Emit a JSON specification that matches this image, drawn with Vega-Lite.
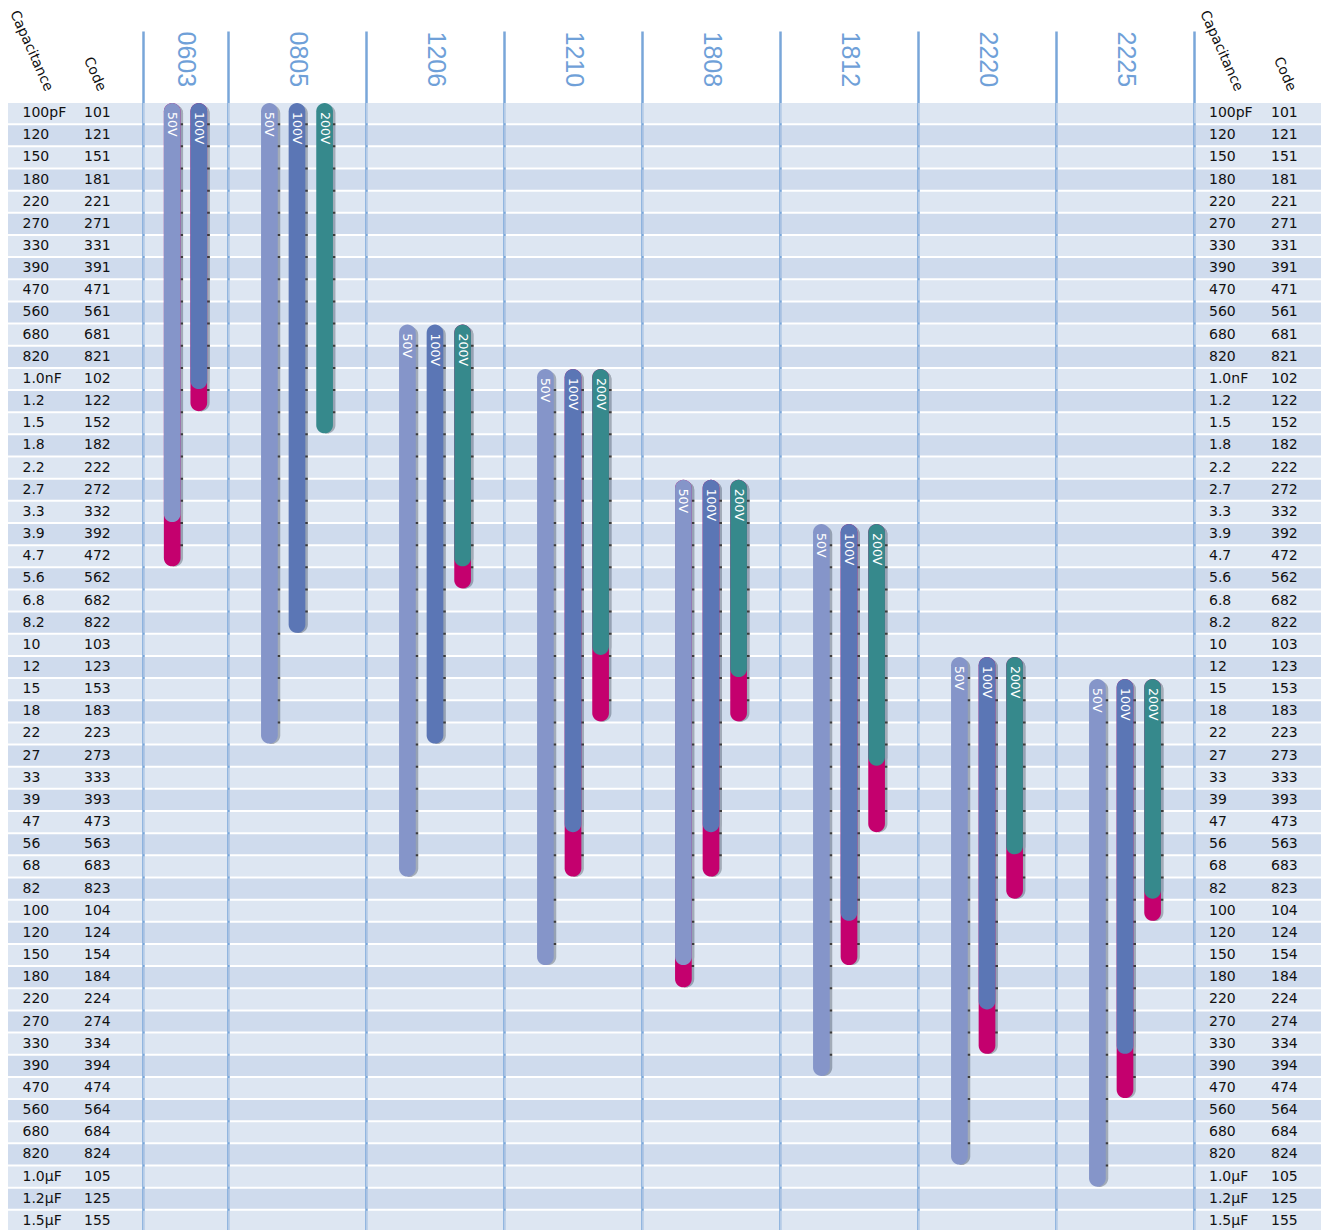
{
  "$schema": "https://vega.github.io/schema/vega-lite/v6.json",
  "background": "white",
  "padding": {"left": 6, "top": 7, "right": 0, "bottom": 0},
  "autosize": {"type": "pad"},
  "spacing": 0,
  "bounds": "flush",
  "config": {
    "view": {"stroke": null},
    "font": "DejaVu Sans",
    "axisY": {"domainColor": "#79a6d9", "domainWidth": 2.5, "labels": false, "ticks": false, "grid": false, "zindex": 1},
    "axisX": {"grid": false}
  },
  "datasets": {
    "rows": [
      {"cap": "100pF", "code": "101"}, {"cap": "120", "code": "121"}, {"cap": "150", "code": "151"}, {"cap": "180", "code": "181"},
      {"cap": "220", "code": "221"}, {"cap": "270", "code": "271"}, {"cap": "330", "code": "331"}, {"cap": "390", "code": "391"},
      {"cap": "470", "code": "471"}, {"cap": "560", "code": "561"}, {"cap": "680", "code": "681"}, {"cap": "820", "code": "821"},
      {"cap": "1.0nF", "code": "102"}, {"cap": "1.2", "code": "122"}, {"cap": "1.5", "code": "152"}, {"cap": "1.8", "code": "182"},
      {"cap": "2.2", "code": "222"}, {"cap": "2.7", "code": "272"}, {"cap": "3.3", "code": "332"}, {"cap": "3.9", "code": "392"},
      {"cap": "4.7", "code": "472"}, {"cap": "5.6", "code": "562"}, {"cap": "6.8", "code": "682"}, {"cap": "8.2", "code": "822"},
      {"cap": "10", "code": "103"}, {"cap": "12", "code": "123"}, {"cap": "15", "code": "153"}, {"cap": "18", "code": "183"},
      {"cap": "22", "code": "223"}, {"cap": "27", "code": "273"}, {"cap": "33", "code": "333"}, {"cap": "39", "code": "393"},
      {"cap": "47", "code": "473"}, {"cap": "56", "code": "563"}, {"cap": "68", "code": "683"}, {"cap": "82", "code": "823"},
      {"cap": "100", "code": "104"}, {"cap": "120", "code": "124"}, {"cap": "150", "code": "154"}, {"cap": "180", "code": "184"},
      {"cap": "220", "code": "224"}, {"cap": "270", "code": "274"}, {"cap": "330", "code": "334"}, {"cap": "390", "code": "394"},
      {"cap": "470", "code": "474"}, {"cap": "560", "code": "564"}, {"cap": "680", "code": "684"}, {"cap": "820", "code": "824"},
      {"cap": "1.0µF", "code": "105"}, {"cap": "1.2µF", "code": "125"}, {"cap": "1.5µF", "code": "155"}
    ],
    "bars": [
      {"pkg": "0603", "v": "50V", "top": "101", "end": "332", "ext": "472"},
      {"pkg": "0603", "v": "100V", "top": "101", "end": "102", "ext": "122"},
      {"pkg": "0805", "v": "50V", "top": "101", "end": "223"},
      {"pkg": "0805", "v": "100V", "top": "101", "end": "822"},
      {"pkg": "0805", "v": "200V", "top": "101", "end": "152"},
      {"pkg": "1206", "v": "50V", "top": "681", "end": "683"},
      {"pkg": "1206", "v": "100V", "top": "681", "end": "223"},
      {"pkg": "1206", "v": "200V", "top": "681", "end": "472", "ext": "562"},
      {"pkg": "1210", "v": "50V", "top": "102", "end": "154"},
      {"pkg": "1210", "v": "100V", "top": "102", "end": "473", "ext": "683"},
      {"pkg": "1210", "v": "200V", "top": "102", "end": "103", "ext": "183"},
      {"pkg": "1808", "v": "50V", "top": "272", "end": "154", "ext": "184"},
      {"pkg": "1808", "v": "100V", "top": "272", "end": "473", "ext": "683"},
      {"pkg": "1808", "v": "200V", "top": "272", "end": "123", "ext": "183"},
      {"pkg": "1812", "v": "50V", "top": "392", "end": "394"},
      {"pkg": "1812", "v": "100V", "top": "392", "end": "104", "ext": "154"},
      {"pkg": "1812", "v": "200V", "top": "392", "end": "273", "ext": "473"},
      {"pkg": "2220", "v": "50V", "top": "123", "end": "824"},
      {"pkg": "2220", "v": "100V", "top": "123", "end": "224", "ext": "334"},
      {"pkg": "2220", "v": "200V", "top": "123", "end": "563", "ext": "823"},
      {"pkg": "2225", "v": "50V", "top": "153", "end": "105"},
      {"pkg": "2225", "v": "100V", "top": "153", "end": "334", "ext": "474"},
      {"pkg": "2225", "v": "200V", "top": "153", "end": "823", "ext": "104"}
    ]
  },
  "hconcat": [
    {
      "width": 135, "height": 1200,
      "data": {"name": "rows"},
      "transform": [{"window": [{"op": "row_number", "as": "rn"}]}],
      "encoding": {"y": {"field": "code", "type": "nominal", "title": null, "axis": null,
        "scale": {"domain": ["_h1","_h2","101","121","151","181","221","271","331","391","471","561","681","821","102","122","152","182","222","272","332","392","472","562","682","822","103","123","153","183","223","273","333","393","473","563","683","823","104","124","154","184","224","274","334","394","474","564","684","824","105","125","155"], "paddingInner": 0.09, "paddingOuter": 0.625, "align": 1}}},
      "layer": [
        {"mark": {"type": "rect", "fillOpacity": 0.7},
         "encoding": {"x": {"value": 0}, "x2": {"value": "width"},
           "color": {"condition": {"test": "datum.rn % 2 == 0", "value": "#bacce5"}, "value": "#cedbec"}}},
        {"mark": {"type": "text", "align": "left", "baseline": "middle", "dx": 0, "font": "DejaVu Sans", "fontSize": 14, "color": "#111111"},
         "encoding": {"x": {"datum": "Capacitance", "type": "nominal", "bandPosition": 0,
             "scale": {"type": "band", "domain": ["Capacitance", "Code"], "paddingInner": 0, "paddingOuter": 0.274},
             "axis": {"orient": "top", "offset": -59, "title": null, "labelAngle": 66, "labelAlign": "right", "labelBaseline": "middle", "labelPadding": 0, "ticks": false, "tickSize": 0, "domain": false, "labelFont": "DejaVu Sans", "labelFontSize": 14, "labelColor": "#111111", "labelOverlap": false, "labelBound": false, "labelFlush": false}},
           "text": {"field": "cap"}}},
        {"mark": {"type": "text", "align": "left", "baseline": "middle", "dx": 8.5, "font": "DejaVu Sans", "fontSize": 14, "color": "#111111"},
         "encoding": {"x": {"datum": "Code", "type": "nominal", "bandPosition": 0, "scale": {"type": "band"}}, "text": {"field": "code"}}}
      ]
    },
    {
      "width": 85, "height": 1200,
      "data": {"name": "bars"},
      "transform": [{"filter": "datum.pkg == '0603'"}],
      "encoding": {"x": {"field": "v", "type": "nominal", "scale": {"type": "band", "domain": ["50V", "100V"], "paddingInner": 0, "paddingOuter": 0.598},
        "axis": {"orient": "top", "title": "0603", "labels": false, "ticks": false, "domain": false, "titleAngle": 90, "titleAlign": "left", "titleBaseline": "middle", "titleY": 0, "titleFont": "Liberation Sans", "titleFontSize": 25, "titleFontWeight": "normal", "titleColor": "#6fa0d8"}}},
      "layer": [
        {"mark": {"type": "bar", "width": 16.7, "cornerRadius": 8.35, "color": "#3c3c3c", "xOffset": 2.5, "yOffset": 2},
         "encoding": {"y": {"field": "top", "type": "nominal", "bandPosition": 0, "title": null}, "y2": {"field": "end", "bandPosition": 1}}},
        {"transform": [{"filter": "isValid(datum.ext)"}], "mark": {"type": "bar", "width": 16.7, "cornerRadius": 8.35, "color": "#3c3c3c", "xOffset": 2.5, "yOffset": 2},
         "encoding": {"y": {"field": "top", "type": "nominal", "bandPosition": 0, "title": null}, "y2": {"field": "ext", "bandPosition": 1}}},
        {"data": {"name": "rows"}, "transform": [{"window": [{"op": "row_number", "as": "rn"}]}],
         "mark": {"type": "rect", "fillOpacity": 0.7},
         "encoding": {"x": {"value": 0}, "x2": {"value": "width"},
           "y": {"field": "code", "type": "nominal", "title": null, "axis": {"title": null},
             "scale": {"domain": ["_h1","_h2","101","121","151","181","221","271","331","391","471","561","681","821","102","122","152","182","222","272","332","392","472","562","682","822","103","123","153","183","223","273","333","393","473","563","683","823","104","124","154","184","224","274","334","394","474","564","684","824","105","125","155"], "paddingInner": 0.09, "paddingOuter": 0.625, "align": 1}},
           "color": {"condition": {"test": "datum.rn % 2 == 0", "value": "#bacce5"}, "value": "#cedbec"}}},
        {"transform": [{"filter": "isValid(datum.ext)"}], "mark": {"type": "bar", "width": 16.7, "cornerRadius": 8.35, "color": "#c4006e"},
         "encoding": {"y": {"field": "top", "type": "nominal", "bandPosition": 0, "title": null}, "y2": {"field": "ext", "bandPosition": 1}}},
        {"mark": {"type": "bar", "width": 16.7, "cornerRadius": 8.35},
         "encoding": {"y": {"field": "top", "type": "nominal", "bandPosition": 0, "title": null}, "y2": {"field": "end", "bandPosition": 1},
           "color": {"field": "v", "type": "nominal", "scale": {"domain": ["50V", "100V", "200V"], "range": ["#8595c9", "#5b76b5", "#36898c"]}, "legend": null}}},
        {"mark": {"type": "text", "angle": 90, "align": "left", "baseline": "middle", "dx": 9, "color": "white", "font": "DejaVu Sans", "fontSize": 12.5},
         "encoding": {"y": {"field": "top", "type": "nominal", "bandPosition": 0, "title": null}, "text": {"field": "v"}}}
      ]
    },
    {
      "width": 138, "height": 1200,
      "data": {"name": "bars"},
      "transform": [{"filter": "datum.pkg == '0805'"}],
      "encoding": {"x": {"field": "v", "type": "nominal", "scale": {"type": "band", "domain": ["50V", "100V", "200V"], "paddingInner": 0, "paddingOuter": 1},
        "axis": {"orient": "top", "title": "0805", "labels": false, "ticks": false, "domain": false, "titleAngle": 90, "titleAlign": "left", "titleBaseline": "middle", "titleY": 0, "titleFont": "Liberation Sans", "titleFontSize": 25, "titleFontWeight": "normal", "titleColor": "#6fa0d8"}}},
      "layer": [
        {"mark": {"type": "bar", "width": 16.7, "cornerRadius": 8.35, "color": "#3c3c3c", "xOffset": 2.5, "yOffset": 2},
         "encoding": {"y": {"field": "top", "type": "nominal", "bandPosition": 0, "title": null}, "y2": {"field": "end", "bandPosition": 1}}},
        {"transform": [{"filter": "isValid(datum.ext)"}], "mark": {"type": "bar", "width": 16.7, "cornerRadius": 8.35, "color": "#3c3c3c", "xOffset": 2.5, "yOffset": 2},
         "encoding": {"y": {"field": "top", "type": "nominal", "bandPosition": 0, "title": null}, "y2": {"field": "ext", "bandPosition": 1}}},
        {"data": {"name": "rows"}, "transform": [{"window": [{"op": "row_number", "as": "rn"}]}],
         "mark": {"type": "rect", "fillOpacity": 0.7},
         "encoding": {"x": {"value": 0}, "x2": {"value": "width"},
           "y": {"field": "code", "type": "nominal", "title": null, "axis": {"title": null},
             "scale": {"domain": ["_h1","_h2","101","121","151","181","221","271","331","391","471","561","681","821","102","122","152","182","222","272","332","392","472","562","682","822","103","123","153","183","223","273","333","393","473","563","683","823","104","124","154","184","224","274","334","394","474","564","684","824","105","125","155"], "paddingInner": 0.09, "paddingOuter": 0.625, "align": 1}},
           "color": {"condition": {"test": "datum.rn % 2 == 0", "value": "#bacce5"}, "value": "#cedbec"}}},
        {"transform": [{"filter": "isValid(datum.ext)"}], "mark": {"type": "bar", "width": 16.7, "cornerRadius": 8.35, "color": "#c4006e"},
         "encoding": {"y": {"field": "top", "type": "nominal", "bandPosition": 0, "title": null}, "y2": {"field": "ext", "bandPosition": 1}}},
        {"mark": {"type": "bar", "width": 16.7, "cornerRadius": 8.35},
         "encoding": {"y": {"field": "top", "type": "nominal", "bandPosition": 0, "title": null}, "y2": {"field": "end", "bandPosition": 1},
           "color": {"field": "v", "type": "nominal", "scale": {"domain": ["50V", "100V", "200V"], "range": ["#8595c9", "#5b76b5", "#36898c"]}, "legend": null}}},
        {"mark": {"type": "text", "angle": 90, "align": "left", "baseline": "middle", "dx": 9, "color": "white", "font": "DejaVu Sans", "fontSize": 12.5},
         "encoding": {"y": {"field": "top", "type": "nominal", "bandPosition": 0, "title": null}, "text": {"field": "v"}}}
      ]
    },
    {
      "width": 138, "height": 1200,
      "data": {"name": "bars"},
      "transform": [{"filter": "datum.pkg == '1206'"}],
      "encoding": {"x": {"field": "v", "type": "nominal", "scale": {"type": "band", "domain": ["50V", "100V", "200V"], "paddingInner": 0, "paddingOuter": 1},
        "axis": {"orient": "top", "title": "1206", "labels": false, "ticks": false, "domain": false, "titleAngle": 90, "titleAlign": "left", "titleBaseline": "middle", "titleY": 0, "titleFont": "Liberation Sans", "titleFontSize": 25, "titleFontWeight": "normal", "titleColor": "#6fa0d8"}}},
      "layer": [
        {"mark": {"type": "bar", "width": 16.7, "cornerRadius": 8.35, "color": "#3c3c3c", "xOffset": 2.5, "yOffset": 2},
         "encoding": {"y": {"field": "top", "type": "nominal", "bandPosition": 0, "title": null}, "y2": {"field": "end", "bandPosition": 1}}},
        {"transform": [{"filter": "isValid(datum.ext)"}], "mark": {"type": "bar", "width": 16.7, "cornerRadius": 8.35, "color": "#3c3c3c", "xOffset": 2.5, "yOffset": 2},
         "encoding": {"y": {"field": "top", "type": "nominal", "bandPosition": 0, "title": null}, "y2": {"field": "ext", "bandPosition": 1}}},
        {"data": {"name": "rows"}, "transform": [{"window": [{"op": "row_number", "as": "rn"}]}],
         "mark": {"type": "rect", "fillOpacity": 0.7},
         "encoding": {"x": {"value": 0}, "x2": {"value": "width"},
           "y": {"field": "code", "type": "nominal", "title": null, "axis": {"title": null},
             "scale": {"domain": ["_h1","_h2","101","121","151","181","221","271","331","391","471","561","681","821","102","122","152","182","222","272","332","392","472","562","682","822","103","123","153","183","223","273","333","393","473","563","683","823","104","124","154","184","224","274","334","394","474","564","684","824","105","125","155"], "paddingInner": 0.09, "paddingOuter": 0.625, "align": 1}},
           "color": {"condition": {"test": "datum.rn % 2 == 0", "value": "#bacce5"}, "value": "#cedbec"}}},
        {"transform": [{"filter": "isValid(datum.ext)"}], "mark": {"type": "bar", "width": 16.7, "cornerRadius": 8.35, "color": "#c4006e"},
         "encoding": {"y": {"field": "top", "type": "nominal", "bandPosition": 0, "title": null}, "y2": {"field": "ext", "bandPosition": 1}}},
        {"mark": {"type": "bar", "width": 16.7, "cornerRadius": 8.35},
         "encoding": {"y": {"field": "top", "type": "nominal", "bandPosition": 0, "title": null}, "y2": {"field": "end", "bandPosition": 1},
           "color": {"field": "v", "type": "nominal", "scale": {"domain": ["50V", "100V", "200V"], "range": ["#8595c9", "#5b76b5", "#36898c"]}, "legend": null}}},
        {"mark": {"type": "text", "angle": 90, "align": "left", "baseline": "middle", "dx": 9, "color": "white", "font": "DejaVu Sans", "fontSize": 12.5},
         "encoding": {"y": {"field": "top", "type": "nominal", "bandPosition": 0, "title": null}, "text": {"field": "v"}}}
      ]
    },
    {
      "width": 138, "height": 1200,
      "data": {"name": "bars"},
      "transform": [{"filter": "datum.pkg == '1210'"}],
      "encoding": {"x": {"field": "v", "type": "nominal", "scale": {"type": "band", "domain": ["50V", "100V", "200V"], "paddingInner": 0, "paddingOuter": 1},
        "axis": {"orient": "top", "title": "1210", "labels": false, "ticks": false, "domain": false, "titleAngle": 90, "titleAlign": "left", "titleBaseline": "middle", "titleY": 0, "titleFont": "Liberation Sans", "titleFontSize": 25, "titleFontWeight": "normal", "titleColor": "#6fa0d8"}}},
      "layer": [
        {"mark": {"type": "bar", "width": 16.7, "cornerRadius": 8.35, "color": "#3c3c3c", "xOffset": 2.5, "yOffset": 2},
         "encoding": {"y": {"field": "top", "type": "nominal", "bandPosition": 0, "title": null}, "y2": {"field": "end", "bandPosition": 1}}},
        {"transform": [{"filter": "isValid(datum.ext)"}], "mark": {"type": "bar", "width": 16.7, "cornerRadius": 8.35, "color": "#3c3c3c", "xOffset": 2.5, "yOffset": 2},
         "encoding": {"y": {"field": "top", "type": "nominal", "bandPosition": 0, "title": null}, "y2": {"field": "ext", "bandPosition": 1}}},
        {"data": {"name": "rows"}, "transform": [{"window": [{"op": "row_number", "as": "rn"}]}],
         "mark": {"type": "rect", "fillOpacity": 0.7},
         "encoding": {"x": {"value": 0}, "x2": {"value": "width"},
           "y": {"field": "code", "type": "nominal", "title": null, "axis": {"title": null},
             "scale": {"domain": ["_h1","_h2","101","121","151","181","221","271","331","391","471","561","681","821","102","122","152","182","222","272","332","392","472","562","682","822","103","123","153","183","223","273","333","393","473","563","683","823","104","124","154","184","224","274","334","394","474","564","684","824","105","125","155"], "paddingInner": 0.09, "paddingOuter": 0.625, "align": 1}},
           "color": {"condition": {"test": "datum.rn % 2 == 0", "value": "#bacce5"}, "value": "#cedbec"}}},
        {"transform": [{"filter": "isValid(datum.ext)"}], "mark": {"type": "bar", "width": 16.7, "cornerRadius": 8.35, "color": "#c4006e"},
         "encoding": {"y": {"field": "top", "type": "nominal", "bandPosition": 0, "title": null}, "y2": {"field": "ext", "bandPosition": 1}}},
        {"mark": {"type": "bar", "width": 16.7, "cornerRadius": 8.35},
         "encoding": {"y": {"field": "top", "type": "nominal", "bandPosition": 0, "title": null}, "y2": {"field": "end", "bandPosition": 1},
           "color": {"field": "v", "type": "nominal", "scale": {"domain": ["50V", "100V", "200V"], "range": ["#8595c9", "#5b76b5", "#36898c"]}, "legend": null}}},
        {"mark": {"type": "text", "angle": 90, "align": "left", "baseline": "middle", "dx": 9, "color": "white", "font": "DejaVu Sans", "fontSize": 12.5},
         "encoding": {"y": {"field": "top", "type": "nominal", "bandPosition": 0, "title": null}, "text": {"field": "v"}}}
      ]
    },
    {
      "width": 138, "height": 1200,
      "data": {"name": "bars"},
      "transform": [{"filter": "datum.pkg == '1808'"}],
      "encoding": {"x": {"field": "v", "type": "nominal", "scale": {"type": "band", "domain": ["50V", "100V", "200V"], "paddingInner": 0, "paddingOuter": 1},
        "axis": {"orient": "top", "title": "1808", "labels": false, "ticks": false, "domain": false, "titleAngle": 90, "titleAlign": "left", "titleBaseline": "middle", "titleY": 0, "titleFont": "Liberation Sans", "titleFontSize": 25, "titleFontWeight": "normal", "titleColor": "#6fa0d8"}}},
      "layer": [
        {"mark": {"type": "bar", "width": 16.7, "cornerRadius": 8.35, "color": "#3c3c3c", "xOffset": 2.5, "yOffset": 2},
         "encoding": {"y": {"field": "top", "type": "nominal", "bandPosition": 0, "title": null}, "y2": {"field": "end", "bandPosition": 1}}},
        {"transform": [{"filter": "isValid(datum.ext)"}], "mark": {"type": "bar", "width": 16.7, "cornerRadius": 8.35, "color": "#3c3c3c", "xOffset": 2.5, "yOffset": 2},
         "encoding": {"y": {"field": "top", "type": "nominal", "bandPosition": 0, "title": null}, "y2": {"field": "ext", "bandPosition": 1}}},
        {"data": {"name": "rows"}, "transform": [{"window": [{"op": "row_number", "as": "rn"}]}],
         "mark": {"type": "rect", "fillOpacity": 0.7},
         "encoding": {"x": {"value": 0}, "x2": {"value": "width"},
           "y": {"field": "code", "type": "nominal", "title": null, "axis": {"title": null},
             "scale": {"domain": ["_h1","_h2","101","121","151","181","221","271","331","391","471","561","681","821","102","122","152","182","222","272","332","392","472","562","682","822","103","123","153","183","223","273","333","393","473","563","683","823","104","124","154","184","224","274","334","394","474","564","684","824","105","125","155"], "paddingInner": 0.09, "paddingOuter": 0.625, "align": 1}},
           "color": {"condition": {"test": "datum.rn % 2 == 0", "value": "#bacce5"}, "value": "#cedbec"}}},
        {"transform": [{"filter": "isValid(datum.ext)"}], "mark": {"type": "bar", "width": 16.7, "cornerRadius": 8.35, "color": "#c4006e"},
         "encoding": {"y": {"field": "top", "type": "nominal", "bandPosition": 0, "title": null}, "y2": {"field": "ext", "bandPosition": 1}}},
        {"mark": {"type": "bar", "width": 16.7, "cornerRadius": 8.35},
         "encoding": {"y": {"field": "top", "type": "nominal", "bandPosition": 0, "title": null}, "y2": {"field": "end", "bandPosition": 1},
           "color": {"field": "v", "type": "nominal", "scale": {"domain": ["50V", "100V", "200V"], "range": ["#8595c9", "#5b76b5", "#36898c"]}, "legend": null}}},
        {"mark": {"type": "text", "angle": 90, "align": "left", "baseline": "middle", "dx": 9, "color": "white", "font": "DejaVu Sans", "fontSize": 12.5},
         "encoding": {"y": {"field": "top", "type": "nominal", "bandPosition": 0, "title": null}, "text": {"field": "v"}}}
      ]
    },
    {
      "width": 138, "height": 1200,
      "data": {"name": "bars"},
      "transform": [{"filter": "datum.pkg == '1812'"}],
      "encoding": {"x": {"field": "v", "type": "nominal", "scale": {"type": "band", "domain": ["50V", "100V", "200V"], "paddingInner": 0, "paddingOuter": 1},
        "axis": {"orient": "top", "title": "1812", "labels": false, "ticks": false, "domain": false, "titleAngle": 90, "titleAlign": "left", "titleBaseline": "middle", "titleY": 0, "titleFont": "Liberation Sans", "titleFontSize": 25, "titleFontWeight": "normal", "titleColor": "#6fa0d8"}}},
      "layer": [
        {"mark": {"type": "bar", "width": 16.7, "cornerRadius": 8.35, "color": "#3c3c3c", "xOffset": 2.5, "yOffset": 2},
         "encoding": {"y": {"field": "top", "type": "nominal", "bandPosition": 0, "title": null}, "y2": {"field": "end", "bandPosition": 1}}},
        {"transform": [{"filter": "isValid(datum.ext)"}], "mark": {"type": "bar", "width": 16.7, "cornerRadius": 8.35, "color": "#3c3c3c", "xOffset": 2.5, "yOffset": 2},
         "encoding": {"y": {"field": "top", "type": "nominal", "bandPosition": 0, "title": null}, "y2": {"field": "ext", "bandPosition": 1}}},
        {"data": {"name": "rows"}, "transform": [{"window": [{"op": "row_number", "as": "rn"}]}],
         "mark": {"type": "rect", "fillOpacity": 0.7},
         "encoding": {"x": {"value": 0}, "x2": {"value": "width"},
           "y": {"field": "code", "type": "nominal", "title": null, "axis": {"title": null},
             "scale": {"domain": ["_h1","_h2","101","121","151","181","221","271","331","391","471","561","681","821","102","122","152","182","222","272","332","392","472","562","682","822","103","123","153","183","223","273","333","393","473","563","683","823","104","124","154","184","224","274","334","394","474","564","684","824","105","125","155"], "paddingInner": 0.09, "paddingOuter": 0.625, "align": 1}},
           "color": {"condition": {"test": "datum.rn % 2 == 0", "value": "#bacce5"}, "value": "#cedbec"}}},
        {"transform": [{"filter": "isValid(datum.ext)"}], "mark": {"type": "bar", "width": 16.7, "cornerRadius": 8.35, "color": "#c4006e"},
         "encoding": {"y": {"field": "top", "type": "nominal", "bandPosition": 0, "title": null}, "y2": {"field": "ext", "bandPosition": 1}}},
        {"mark": {"type": "bar", "width": 16.7, "cornerRadius": 8.35},
         "encoding": {"y": {"field": "top", "type": "nominal", "bandPosition": 0, "title": null}, "y2": {"field": "end", "bandPosition": 1},
           "color": {"field": "v", "type": "nominal", "scale": {"domain": ["50V", "100V", "200V"], "range": ["#8595c9", "#5b76b5", "#36898c"]}, "legend": null}}},
        {"mark": {"type": "text", "angle": 90, "align": "left", "baseline": "middle", "dx": 9, "color": "white", "font": "DejaVu Sans", "fontSize": 12.5},
         "encoding": {"y": {"field": "top", "type": "nominal", "bandPosition": 0, "title": null}, "text": {"field": "v"}}}
      ]
    },
    {
      "width": 138, "height": 1200,
      "data": {"name": "bars"},
      "transform": [{"filter": "datum.pkg == '2220'"}],
      "encoding": {"x": {"field": "v", "type": "nominal", "scale": {"type": "band", "domain": ["50V", "100V", "200V"], "paddingInner": 0, "paddingOuter": 1},
        "axis": {"orient": "top", "title": "2220", "labels": false, "ticks": false, "domain": false, "titleAngle": 90, "titleAlign": "left", "titleBaseline": "middle", "titleY": 0, "titleFont": "Liberation Sans", "titleFontSize": 25, "titleFontWeight": "normal", "titleColor": "#6fa0d8"}}},
      "layer": [
        {"mark": {"type": "bar", "width": 16.7, "cornerRadius": 8.35, "color": "#3c3c3c", "xOffset": 2.5, "yOffset": 2},
         "encoding": {"y": {"field": "top", "type": "nominal", "bandPosition": 0, "title": null}, "y2": {"field": "end", "bandPosition": 1}}},
        {"transform": [{"filter": "isValid(datum.ext)"}], "mark": {"type": "bar", "width": 16.7, "cornerRadius": 8.35, "color": "#3c3c3c", "xOffset": 2.5, "yOffset": 2},
         "encoding": {"y": {"field": "top", "type": "nominal", "bandPosition": 0, "title": null}, "y2": {"field": "ext", "bandPosition": 1}}},
        {"data": {"name": "rows"}, "transform": [{"window": [{"op": "row_number", "as": "rn"}]}],
         "mark": {"type": "rect", "fillOpacity": 0.7},
         "encoding": {"x": {"value": 0}, "x2": {"value": "width"},
           "y": {"field": "code", "type": "nominal", "title": null, "axis": {"title": null},
             "scale": {"domain": ["_h1","_h2","101","121","151","181","221","271","331","391","471","561","681","821","102","122","152","182","222","272","332","392","472","562","682","822","103","123","153","183","223","273","333","393","473","563","683","823","104","124","154","184","224","274","334","394","474","564","684","824","105","125","155"], "paddingInner": 0.09, "paddingOuter": 0.625, "align": 1}},
           "color": {"condition": {"test": "datum.rn % 2 == 0", "value": "#bacce5"}, "value": "#cedbec"}}},
        {"transform": [{"filter": "isValid(datum.ext)"}], "mark": {"type": "bar", "width": 16.7, "cornerRadius": 8.35, "color": "#c4006e"},
         "encoding": {"y": {"field": "top", "type": "nominal", "bandPosition": 0, "title": null}, "y2": {"field": "ext", "bandPosition": 1}}},
        {"mark": {"type": "bar", "width": 16.7, "cornerRadius": 8.35},
         "encoding": {"y": {"field": "top", "type": "nominal", "bandPosition": 0, "title": null}, "y2": {"field": "end", "bandPosition": 1},
           "color": {"field": "v", "type": "nominal", "scale": {"domain": ["50V", "100V", "200V"], "range": ["#8595c9", "#5b76b5", "#36898c"]}, "legend": null}}},
        {"mark": {"type": "text", "angle": 90, "align": "left", "baseline": "middle", "dx": 9, "color": "white", "font": "DejaVu Sans", "fontSize": 12.5},
         "encoding": {"y": {"field": "top", "type": "nominal", "bandPosition": 0, "title": null}, "text": {"field": "v"}}}
      ]
    },
    {
      "width": 138, "height": 1200,
      "data": {"name": "bars"},
      "transform": [{"filter": "datum.pkg == '2225'"}],
      "encoding": {"x": {"field": "v", "type": "nominal", "scale": {"type": "band", "domain": ["50V", "100V", "200V"], "paddingInner": 0, "paddingOuter": 1},
        "axis": {"orient": "top", "title": "2225", "labels": false, "ticks": false, "domain": false, "titleAngle": 90, "titleAlign": "left", "titleBaseline": "middle", "titleY": 0, "titleFont": "Liberation Sans", "titleFontSize": 25, "titleFontWeight": "normal", "titleColor": "#6fa0d8"}}},
      "layer": [
        {"mark": {"type": "bar", "width": 16.7, "cornerRadius": 8.35, "color": "#3c3c3c", "xOffset": 2.5, "yOffset": 2},
         "encoding": {"y": {"field": "top", "type": "nominal", "bandPosition": 0, "title": null}, "y2": {"field": "end", "bandPosition": 1}}},
        {"transform": [{"filter": "isValid(datum.ext)"}], "mark": {"type": "bar", "width": 16.7, "cornerRadius": 8.35, "color": "#3c3c3c", "xOffset": 2.5, "yOffset": 2},
         "encoding": {"y": {"field": "top", "type": "nominal", "bandPosition": 0, "title": null}, "y2": {"field": "ext", "bandPosition": 1}}},
        {"data": {"name": "rows"}, "transform": [{"window": [{"op": "row_number", "as": "rn"}]}],
         "mark": {"type": "rect", "fillOpacity": 0.7},
         "encoding": {"x": {"value": 0}, "x2": {"value": "width"},
           "y": {"field": "code", "type": "nominal", "title": null, "axis": {"title": null},
             "scale": {"domain": ["_h1","_h2","101","121","151","181","221","271","331","391","471","561","681","821","102","122","152","182","222","272","332","392","472","562","682","822","103","123","153","183","223","273","333","393","473","563","683","823","104","124","154","184","224","274","334","394","474","564","684","824","105","125","155"], "paddingInner": 0.09, "paddingOuter": 0.625, "align": 1}},
           "color": {"condition": {"test": "datum.rn % 2 == 0", "value": "#bacce5"}, "value": "#cedbec"}}},
        {"transform": [{"filter": "isValid(datum.ext)"}], "mark": {"type": "bar", "width": 16.7, "cornerRadius": 8.35, "color": "#c4006e"},
         "encoding": {"y": {"field": "top", "type": "nominal", "bandPosition": 0, "title": null}, "y2": {"field": "ext", "bandPosition": 1}}},
        {"mark": {"type": "bar", "width": 16.7, "cornerRadius": 8.35},
         "encoding": {"y": {"field": "top", "type": "nominal", "bandPosition": 0, "title": null}, "y2": {"field": "end", "bandPosition": 1},
           "color": {"field": "v", "type": "nominal", "scale": {"domain": ["50V", "100V", "200V"], "range": ["#8595c9", "#5b76b5", "#36898c"]}, "legend": null}}},
        {"mark": {"type": "text", "angle": 90, "align": "left", "baseline": "middle", "dx": 9, "color": "white", "font": "DejaVu Sans", "fontSize": 12.5},
         "encoding": {"y": {"field": "top", "type": "nominal", "bandPosition": 0, "title": null}, "text": {"field": "v"}}}
      ]
    },
    {
      "width": 127, "height": 1200,
      "data": {"name": "rows"},
      "transform": [{"window": [{"op": "row_number", "as": "rn"}]}],
      "encoding": {"y": {"field": "code", "type": "nominal", "title": null, "axis": {"title": null},
        "scale": {"domain": ["_h1","_h2","101","121","151","181","221","271","331","391","471","561","681","821","102","122","152","182","222","272","332","392","472","562","682","822","103","123","153","183","223","273","333","393","473","563","683","823","104","124","154","184","224","274","334","394","474","564","684","824","105","125","155"], "paddingInner": 0.09, "paddingOuter": 0.625, "align": 1}}},
      "layer": [
        {"mark": {"type": "rect", "fillOpacity": 0.7},
         "encoding": {"x": {"value": 0}, "x2": {"value": "width"},
           "color": {"condition": {"test": "datum.rn % 2 == 0", "value": "#bacce5"}, "value": "#cedbec"}}},
        {"mark": {"type": "text", "align": "left", "baseline": "middle", "dx": 4.5, "font": "DejaVu Sans", "fontSize": 14, "color": "#111111"},
         "encoding": {"x": {"datum": "Capacitance", "type": "nominal", "bandPosition": 0,
             "scale": {"type": "band", "domain": ["Capacitance", "Code"], "paddingInner": 0, "paddingOuter": 0.198},
             "axis": {"orient": "top", "offset": -59, "title": null, "labelAngle": 66, "labelAlign": "right", "labelBaseline": "middle", "labelPadding": 0, "labelOffset": 8, "ticks": false, "tickSize": 0, "domain": false, "labelFont": "DejaVu Sans", "labelFontSize": 14, "labelColor": "#111111", "labelOverlap": false, "labelBound": false, "labelFlush": false}},
           "text": {"field": "cap"}}},
        {"mark": {"type": "text", "align": "left", "baseline": "middle", "dx": 13.5, "font": "DejaVu Sans", "fontSize": 14, "color": "#111111"},
         "encoding": {"x": {"datum": "Code", "type": "nominal", "bandPosition": 0, "scale": {"type": "band"}}, "text": {"field": "code"}}}
      ]
    }
  ]
}
